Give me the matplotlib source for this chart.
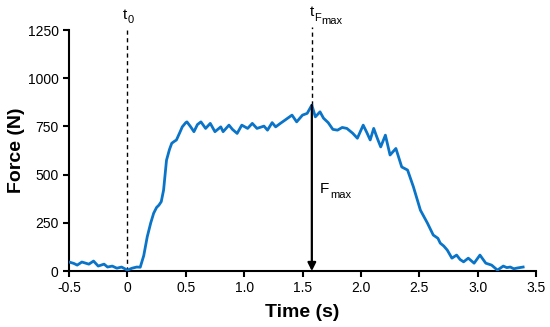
import matplotlib.pyplot as plt
import numpy as np

plt.rcParams['font.family'] = ['Liberation Sans', 'DejaVu Sans']

time_s = [-0.50, -0.46, -0.43, -0.39, -0.33, -0.29, -0.25, -0.20, -0.17, -0.13,
          -0.09, -0.05, 0.00, 0.04, 0.08, 0.11, 0.14, 0.17, 0.20, 0.225,
          0.25, 0.27, 0.29, 0.31, 0.335, 0.36, 0.38, 0.40, 0.42, 0.45,
          0.47, 0.50, 0.51, 0.54, 0.57, 0.60, 0.63, 0.67, 0.71, 0.75,
          0.80, 0.82, 0.87, 0.90, 0.94, 0.98, 1.03, 1.07, 1.11, 1.17,
          1.20, 1.24, 1.27, 1.31, 1.35, 1.41, 1.45, 1.50, 1.54, 1.58,
          1.61, 1.65, 1.68, 1.72, 1.76, 1.80, 1.84, 1.88, 1.93, 1.97,
          2.02, 2.05, 2.08, 2.11, 2.14, 2.17, 2.21, 2.25, 2.30, 2.35,
          2.40, 2.45, 2.51, 2.57, 2.62, 2.66, 2.68, 2.71, 2.74, 2.78,
          2.82, 2.85, 2.88, 2.92, 2.97, 3.02, 3.07, 3.12, 3.17, 3.22,
          3.25, 3.28, 3.31, 3.34, 3.39]
force_n = [47, 40, 31, 47, 36, 52, 26, 36, 21, 26,
           15, 21, 5, 15, 21, 20, 80, 178, 250, 300,
           330, 342, 360, 420, 575, 630, 663, 672, 680, 720,
           748, 770, 774, 750, 723, 760, 774, 740, 766, 723,
           748, 723, 757, 735, 714, 757, 740, 766, 740, 752,
           731, 770, 748, 766, 783, 809, 774, 809, 818, 861,
           800, 826, 793, 770, 735, 731, 745, 740, 715, 689,
           757, 720, 680, 740, 690, 644, 705, 602, 636, 540,
           524, 437, 316, 249, 187, 170, 145, 130, 109, 67,
           83, 60, 48, 67, 41, 83, 41, 31, 5, 26,
           18, 21, 12, 16, 21]

t_peak = 1.58
f_peak = 861

x_ticks = [-0.5, 0, 0.5, 1.0, 1.5, 2.0, 2.5, 3.0, 3.5]
x_tick_labels = ['-0.5', '0', '0.5', '1.0', '1.5', '2.0', '2.5', '3.0', '3.5']
y_ticks = [0, 250, 500, 750, 1000, 1250]

fig = plt.figure(figsize=(5.5, 3.27), dpi=100)
ax = fig.add_axes([0.1255, 0.171, 0.849, 0.737])

ax.plot(time_s, force_n, color='#0A74C8', linewidth=2.0, zorder=3)

# marker lines
ax.plot([0, 0], [0, 1265], color='black', linestyle=(0, (3, 2.5)), linewidth=1.0,
        clip_on=False)
ax.plot([t_peak, t_peak], [f_peak, 1265], color='black', linestyle=(0, (3, 2.5)),
        linewidth=1.0, clip_on=False)
ax.annotate('', xy=(t_peak, 0), xytext=(t_peak, f_peak),
            arrowprops=dict(arrowstyle='-|>', color='black', lw=1.6,
                            mutation_scale=12, shrinkA=0, shrinkB=0), zorder=4)

# labels: t0, tFmax, Fmax
ax.text(0, 1310, 't', ha='right', va='baseline', fontsize=11)
ax.text(0.0, 1285, '0', ha='left', va='baseline', fontsize=8)
ax.text(t_peak + 0.02, 1325, 't', ha='right', va='baseline', fontsize=11)
ax.text(t_peak + 0.02, 1297, 'F', ha='left', va='baseline', fontsize=8)
ax.text(t_peak + 0.085, 1280, 'max', ha='left', va='baseline', fontsize=8)
ax.text(t_peak + 0.07, 405, 'F', ha='left', va='baseline', fontsize=11)
ax.text(t_peak + 0.155, 380, 'max', ha='left', va='baseline', fontsize=8)

ax.set_xlim(-0.5, 3.5)
ax.set_ylim(0, 1250)
ax.set_xticks(x_ticks)
ax.set_xticklabels(x_tick_labels)
ax.set_yticks(y_ticks)

for s in ['top', 'right']:
    ax.spines[s].set_visible(False)
for s in ['left', 'bottom']:
    ax.spines[s].set_linewidth(1.5)
ax.tick_params(direction='out', length=4, width=1.5, labelsize=10, colors='black')

ax.set_xlabel('Time (s)', fontsize=14, fontweight='bold', labelpad=6)
ax.set_ylabel('Force (N)', fontsize=14, fontweight='bold', labelpad=2)

fig.savefig('out.png', dpi=100)
